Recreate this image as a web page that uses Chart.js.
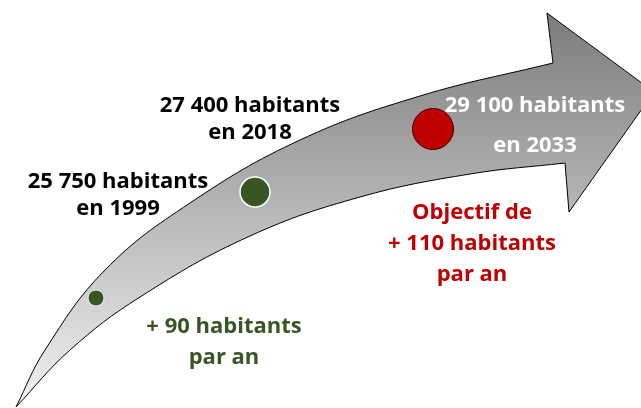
<!DOCTYPE html>
<html lang="fr">
    <head>
        <meta charset="UTF-8" />
        <title>Population - objectif 2033</title>
        <script src="https://cdn.jsdelivr.net/npm/chart.js"></script>
        <style>
            body { margin: 0; background: #ffffff; }
            #wrap { width: 641px; height: 408px; }
        </style>
    </head>
    <body>
        <div id="wrap"><canvas id="popChart" width="641" height="408"></canvas></div>

        <script>
            // Données
            const annees = [1999, 2018, 2033];
            const habitants = [25750, 27400, 29100];
            const hausseParAn = [90, 110];

            // Repère du schéma (0..641 / 0..408), pas une vraie échelle
            const repereX = [96, 255, 433];
            const repereY = [298, 192, 129];

            // Contour de la flèche (coins doublés pour garder les pointes nettes)
            const flecheX = [16, 45, 105, 190, 300, 420, 553, 553, 547, 547, 654, 654, 569, 569, 565, 565, 470, 360, 250, 140, 70, 16];
            const flecheY = [407, 350, 270, 203, 140, 96, 63, 63, 13, 13, 92, 92, 212, 212, 163, 163, 174, 197, 236, 297, 350, 407];

            const fmt = (n) => String(n).replace(/\B(?=(\d{3})+(?!\d))/g, " ");

            const blocs = [
                { lignes: [fmt(habitants[0]) + " habitants", "en " + annees[0]], x: 118, y: [188, 215], couleur: "#000000" },
                { lignes: [fmt(habitants[1]) + " habitants", "en " + annees[1]], x: 250, y: [112, 139], couleur: "#000000" },
                { lignes: [fmt(habitants[2]) + " habitants", "en " + annees[2]], x: 535, y: [112, 152], couleur: "#ffffff" },
                { lignes: ["Objectif de", "+ " + hausseParAn[1] + " habitants", "par an"], x: 472, y: [219, 250, 281], couleur: "#c00000" },
                { lignes: ["+ " + hausseParAn[0] + " habitants", "par an"], x: 224, y: [333, 364], couleur: "#375623" },
            ];

            // Textes dessinés à la main
            const textes = {
                id: "textes",
                afterDatasetsDraw(chart) {
                    const { ctx, scales } = chart;
                    ctx.save();
                    ctx.font = "bold 22px 'Open Sans'";
                    ctx.textAlign = "center";
                    ctx.textBaseline = "alphabetic";
                    blocs.forEach((b) => {
                        ctx.fillStyle = b.couleur;
                        b.lignes.forEach((t, i) => {
                            ctx.fillText(t, scales.x.getPixelForValue(b.x), scales.y.getPixelForValue(b.y[i]));
                        });
                    });
                    ctx.restore();
                },
            };

            new Chart(document.getElementById("popChart"), {
                type: "scatter",
                data: {
                    datasets: [
                        {
                            label: "Habitants",
                            data: repereX.map((x, i) => ({ x: x, y: repereY[i] })),
                            pointRadius: [8, 15, 20.5],
                            pointBackgroundColor: ["#375623", "#375623", "#c00000"],
                            pointBorderColor: ["#eeeeee", "#ffffff", "#3a0000"],
                            pointBorderWidth: [1, 1.5, 1],
                            order: 0,
                        },
                        {
                            type: "line",
                            label: "Flèche",
                            data: flecheX.map((x, i) => ({ x: x, y: flecheY[i] })),
                            borderColor: "#000000",
                            borderWidth: 1,
                            pointRadius: 0,
                            tension: 0.4,
                            capBezierPoints: false,
                            fill: "shape",
                            backgroundColor: (c) => {
                                const chart = c.chart;
                                if (!chart.chartArea) return "#bbbbbb";
                                const ys = chart.scales.y;
                                const g = chart.ctx.createLinearGradient(0, ys.getPixelForValue(13), 0, ys.getPixelForValue(407));
                                g.addColorStop(0, "#7b7b7b");
                                g.addColorStop(1, "#f2f2f2");
                                return g;
                            },
                            order: 1,
                        },
                    ],
                },
                options: {
                    responsive: false,
                    animation: false,
                    events: [],
                    layout: { padding: 0, autoPadding: false },
                    plugins: { legend: { display: false }, tooltip: { enabled: false } },
                    scales: {
                        x: { type: "linear", min: 0, max: 641, display: false },
                        y: { type: "linear", min: 0, max: 408, reverse: true, display: false },
                    },
                },
                plugins: [textes],
            });
        </script>
    </body>
</html>
